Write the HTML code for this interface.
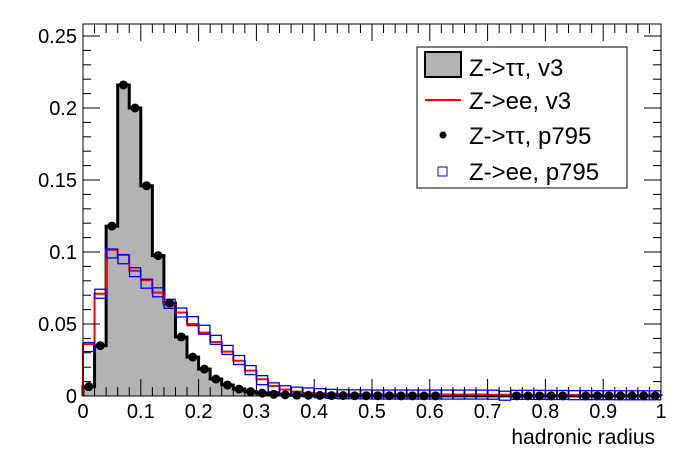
<!DOCTYPE html>
<html><head><meta charset="utf-8"><style>
body{margin:0;background:#fff}
svg{display:block;font-family:"Liberation Sans",Arial,sans-serif}
</style></head><body>
<svg id="s" width="696" height="472" viewBox="0 0 696 472" xmlns="http://www.w3.org/2000/svg">
<rect width="696" height="472" fill="#fff"/>
<g id="data"></g>
<rect x="83" y="24" width="578" height="372" fill="none" stroke="#000" stroke-width="1"/>
<g id="ticks" stroke="#000" stroke-width="1"></g>
<g font-size="20" fill="#000" text-anchor="middle">
<text x="83" y="418">0</text><text x="140.8" y="418">0.1</text><text x="198.6" y="418">0.2</text>
<text x="256.4" y="418">0.3</text><text x="314.2" y="418">0.4</text><text x="372" y="418">0.5</text>
<text x="429.8" y="418">0.6</text><text x="487.6" y="418">0.7</text><text x="545.4" y="418">0.8</text>
<text x="603.2" y="418">0.9</text><text x="661" y="418">1</text>
</g>
<g font-size="20" fill="#000" text-anchor="end">
<text x="77" y="403">0</text><text x="77" y="331">0.05</text><text x="77" y="259">0.1</text>
<text x="77" y="187">0.15</text><text x="77" y="115">0.2</text><text x="77" y="43">0.25</text>
</g>
<text x="655" y="444" font-size="21" text-anchor="end">hadronic radius</text>
<rect x="417" y="47" width="210" height="141" fill="#fff" stroke="#000" stroke-width="1"/>
<rect x="425" y="52" width="36" height="25" fill="#b3b3b3" stroke="#000" stroke-width="2"/>
<line x1="425" y1="100" x2="461" y2="100" stroke="#f00" stroke-width="2"/>
<circle cx="443" cy="135" r="3.5" fill="#000"/>
<rect x="438" y="167" width="9" height="9" fill="none" stroke="#00f" stroke-width="1"/>
<g font-size="24" fill="#000">
<text x="469" y="76">Z-&gt;ττ, v3</text>
<text x="469" y="109">Z-&gt;ee, v3</text>
<text x="469" y="144">Z-&gt;ττ, p795</text>
<text x="469" y="180">Z-&gt;ee, p795</text>
</g>
</svg>
<script>
var NS="http://www.w3.org/2000/svg";
var X0=83,Y0=396,W=578,S=1440,bw=W/50;
function el(t,a,p){var e=document.createElementNS(NS,t);for(var k in a)e.setAttribute(k,a[k]);(p||document.getElementById('data')).appendChild(e);return e;}
function y(v){return Y0-v*S;}
var tau=[0.0065,0.035,0.118,0.216,0.2,0.146,0.0975,0.0645,0.041,0.027,0.0187,0.0118,0.0076,0.0048,0.003,0.002,0.0012,0.0008,0.0006,0.0005,0.0004,0.0003,0.0003,0.0002,0.0002,0.0002,0.0002,0.0001,0.0001,0.0001];
while(tau.length<50)tau.push(0.0001);
var ee=[0.036,0.071,0.1015,0.098,0.087,0.0805,0.0718,0.063,0.058,0.05,0.044,0.0375,0.0308,0.0245,0.0176,0.0116,0.007,0.0045,0.003,0.0022,0.0018,0.0015,0.0013,0.0012,0.0011,0.001,0.001,0.001,0.001,0.001,0.001,0.001,0.001,0.001,0.001,0.0009,0.0009,0.0008,0.0008,0.0008,0.0007,0.0007,0.0007,0.0006,0.0006,0.0006,0.0005,0.0005,0.0005,0.0005];
var eb=[0.034,0.071,0.099,0.095,0.086,0.078,0.072,0.064,0.058,0.052,0.046,0.039,0.032,0.025,0.018,0.011,0.006,0.004,0.003,0.0025,0.002,0.0015,0.0012,0.0012,0.0011,0.001,0.001,0.001,0.001,0.001,0.001,0.001,0.001,0.001,0.001,0.0009,0.0002,0.0008,0.0008,0.0008,0.0007,0.0007,0.0006,0.0006,0.0006,0.0006,0.0005,0.0005,0.0005,0.0005];
function step(d){var s="M"+X0+","+Y0;for(var i=0;i<50;i++){s+=" L"+(X0+i*bw)+","+y(d[i])+" L"+(X0+(i+1)*bw)+","+y(d[i]);}return s+" L"+(X0+W)+","+Y0;}
el('path',{d:step(tau)+" Z",fill:"#b3b3b3",stroke:"none"});
el('path',{d:step(tau),fill:"none",stroke:"#000","stroke-width":3});
el('path',{d:step(ee),fill:"none",stroke:"#f00","stroke-width":2});
var skipB={31:1,32:1,33:1,34:1,35:1,36:1,42:1};
for(var i=0;i<50;i++){var cx=X0+(i+0.5)*bw;
 el('rect',{x:cx-5.5,y:y(eb[i])-4.5,width:11,height:9,fill:"none",stroke:"#00f","stroke-width":1.3});
 if(!skipB[i])el('circle',{cx:cx,cy:y(tau[i]),r:4.5,fill:"#000"});}
var t=document.getElementById('ticks');
for(var i=0;i<=50;i++){var x=X0+i*bw,L=(i%5==0)?17:9;
 el('line',{x1:x,y1:Y0,x2:x,y2:Y0-L},t);el('line',{x1:x,y1:24,x2:x,y2:24+L},t);}
for(var v=0;v<=0.2583;v+=0.01){var yy=y(v),k=Math.round(v*100),L=(k%5==0)?17:8;
 el('line',{x1:X0,y1:yy,x2:X0+L,y2:yy},t);el('line',{x1:X0+W,y1:yy,x2:X0+W-L,y2:yy},t);}
</script>
</body></html>
